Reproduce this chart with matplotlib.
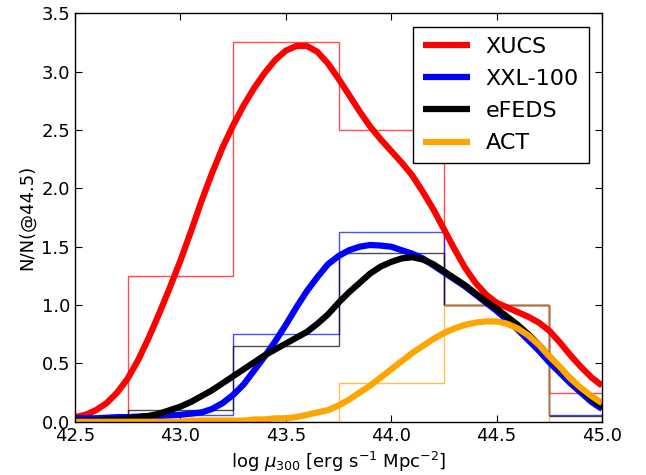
import numpy as np
import matplotlib
matplotlib.use("Agg")
import matplotlib.pyplot as plt

# ---- data ----
bin_edges = [42.75, 43.25, 43.75, 44.25, 44.75, 45.25]

hist_xucs = [1.25, 3.25, 2.5, 1.0, 0.25]
hist_xxl = [0.0625, 0.75, 1.625, 1.0, 0.0625]
hist_efeds = [0.10, 0.65, 1.45, 1.0, 0.05]
hist_act = [0.0, 0.0, 0.333, 1.0, 0.0]

curve_x = [42.50, 42.55, 42.60, 42.65, 42.70, 42.75, 42.80, 42.85, 42.90, 42.95,
           43.00, 43.05, 43.10, 43.15, 43.20, 43.25, 43.30, 43.35, 43.40, 43.45,
           43.50, 43.55, 43.60, 43.65, 43.70, 43.75, 43.80, 43.85, 43.90, 43.95,
           44.00, 44.05, 44.10, 44.15, 44.20, 44.25, 44.30, 44.35, 44.40, 44.45,
           44.50, 44.55, 44.60, 44.65, 44.70, 44.75, 44.80, 44.85, 44.90, 44.95,
           45.00]

curve_xucs = [0.04, 0.06, 0.10, 0.16, 0.25, 0.37, 0.53, 0.72, 0.93, 1.15,
              1.38, 1.63, 1.89, 2.13, 2.35, 2.54, 2.71, 2.86, 2.99, 3.10,
              3.18, 3.22, 3.22, 3.17, 3.07, 2.94, 2.80, 2.66, 2.53, 2.42,
              2.32, 2.22, 2.11, 1.97, 1.82, 1.65, 1.48, 1.32, 1.19, 1.09,
              1.02, 0.98, 0.94, 0.90, 0.85, 0.78, 0.68, 0.57, 0.47, 0.38,
              0.31]

curve_xxl = [0.03, 0.03, 0.03, 0.035, 0.04, 0.04, 0.045, 0.05, 0.05, 0.055,
             0.06, 0.07, 0.08, 0.11, 0.16, 0.23, 0.32, 0.44, 0.56, 0.69,
             0.83, 0.98, 1.12, 1.24, 1.35, 1.42, 1.47, 1.50, 1.515, 1.51,
             1.50, 1.47, 1.44, 1.40, 1.34, 1.28, 1.22, 1.16, 1.09, 1.02,
             0.95, 0.87, 0.79, 0.70, 0.61, 0.51, 0.42, 0.33, 0.25, 0.17,
             0.11]

curve_efeds = [0.01, 0.01, 0.01, 0.02, 0.02, 0.03, 0.04, 0.05, 0.07, 0.10,
               0.13, 0.17, 0.22, 0.27, 0.33, 0.39, 0.45, 0.51, 0.57, 0.62,
               0.67, 0.72, 0.77, 0.84, 0.92, 1.02, 1.11, 1.19, 1.27, 1.33,
               1.37, 1.40, 1.41, 1.39, 1.35, 1.29, 1.23, 1.17, 1.10, 1.03,
               0.97, 0.90, 0.83, 0.75, 0.66, 0.56, 0.46, 0.37, 0.28, 0.20,
               0.13]

curve_act = [0.00, 0.00, 0.00, 0.00, 0.00, 0.00, 0.00, 0.00, 0.00, 0.00,
             0.00, 0.01, 0.01, 0.01, 0.01, 0.01, 0.01, 0.02, 0.02, 0.03,
             0.03, 0.04, 0.06, 0.08, 0.10, 0.14, 0.19, 0.25, 0.31, 0.38,
             0.45, 0.52, 0.59, 0.65, 0.71, 0.76, 0.80, 0.83, 0.85, 0.86,
             0.86, 0.84, 0.80, 0.74, 0.66, 0.56, 0.47, 0.37, 0.29, 0.22,
             0.16]

labels = ["XUCS", "XXL-100", "eFEDS", "ACT"]
colors = ["red", "blue", "black", "orange"]

# ---- style: old-school matplotlib look ----
plt.rcParams.update({
    "font.family": "DejaVu Sans",
    "font.size": 13,
    "xtick.direction": "in",
    "ytick.direction": "in",
    "xtick.top": True,
    "ytick.right": True,
    "xtick.major.size": 5,
    "ytick.major.size": 5,
    "xtick.labelsize": 13,
    "ytick.labelsize": 13,
    "axes.linewidth": 1.0,
})

fig = plt.figure(figsize=(6.46, 4.75), dpi=100)
ax = fig.add_axes([0.116, 0.112, 0.816, 0.860])

hists = [hist_xucs, hist_xxl, hist_efeds, hist_act]
curves = [curve_xucs, curve_xxl, curve_efeds, curve_act]

for h, c in zip(hists, colors):
    ax.stairs(h, bin_edges, baseline=0, color=c, lw=1.0, alpha=0.7)

for y, c, lab in zip(curves, colors, labels):
    ax.plot(curve_x, y, color=c, lw=4.5, label=lab,
            solid_capstyle="butt", solid_joinstyle="round")

ax.set_xlim(42.5, 45.0)
ax.set_ylim(0, 3.5)
ax.set_xticks(np.arange(42.5, 45.01, 0.5))
ax.set_yticks(np.arange(0, 3.51, 0.5))
ax.set_xlabel(r"log $\mu_{300}$ [erg s$^{-1}$ Mpc$^{-2}$]")
ax.set_ylabel("N/N(@44.5)")

leg = ax.legend(loc="upper right", fontsize=16, fancybox=False, framealpha=1,
                edgecolor="black", handlelength=2.1, borderpad=0.45,
                labelspacing=0.55, borderaxespad=0.6, handletextpad=0.7)
leg.get_frame().set_linewidth(1.0)

fig.savefig("out.png", dpi=100)
